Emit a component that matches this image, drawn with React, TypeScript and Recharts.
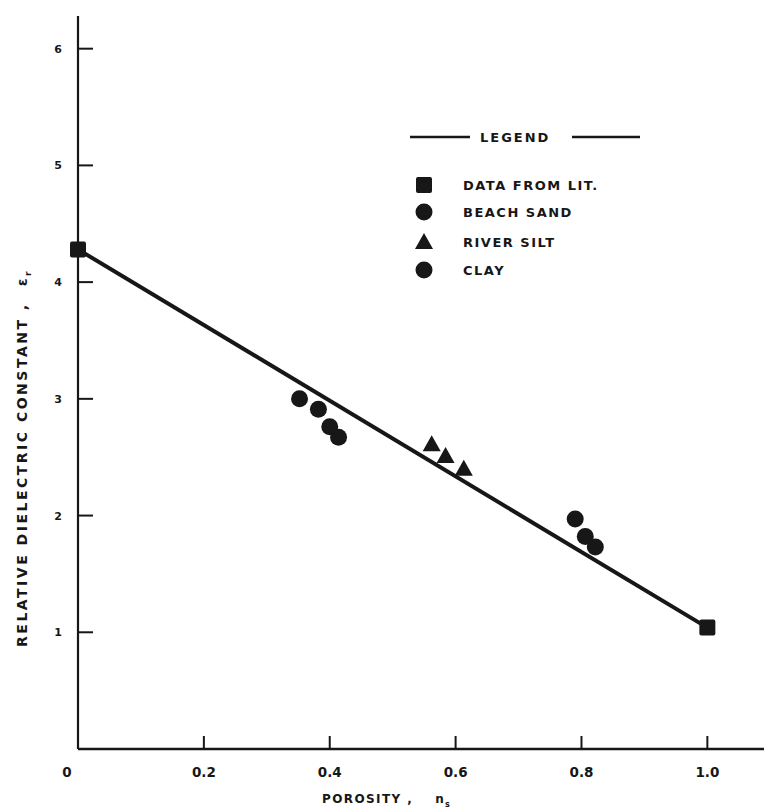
import React from "react";
import { ScatterChart, Scatter, XAxis, YAxis, Legend, Label } from "recharts";

// porosity (n_s) and relative dielectric constant readings per material
const litPorosity = [0, 1.0];
const litDielectric = [4.28, 1.04];

const sandPorosity = [0.352, 0.382, 0.4, 0.414];
const sandDielectric = [3.0, 2.91, 2.76, 2.67];

const siltPorosity = [0.562, 0.584, 0.613];
const siltDielectric = [2.61, 2.51, 2.4];

const clayPorosity = [0.79, 0.806, 0.822];
const clayDielectric = [1.97, 1.82, 1.73];

// straight-line fit through the literature end points
const fitPorosity = [0, 1.0];
const fitDielectric = [4.28, 1.04];

const porosityTicks = [0, 0.2, 0.4, 0.6, 0.8, 1.0];
const dielectricTicks = [1, 2, 3, 4, 5, 6];

const legendNames = ["DATA FROM LIT.", "BEACH SAND", "RIVER SILT", "CLAY"];
const legendShapes = ["square", "circle", "triangle", "circle"];

const INK = "#171717";
const FONT = "'DejaVu Sans', sans-serif";

const toPoints = (xs: number[], ys: number[]) =>
  xs.map((x, i) => ({ x, y: ys[i] }));

function Marker({ kind, cx, cy }: { kind: string; cx: number; cy: number }) {
  if (kind === "square") {
    return <rect x={cx - 8} y={cy - 8} width={16} height={16} rx={2} fill={INK} />;
  }
  if (kind === "triangle") {
    return (
      <polygon
        points={`${cx},${cy - 9} ${cx + 9},${cy + 7} ${cx - 9},${cy + 7}`}
        fill={INK}
      />
    );
  }
  return <circle cx={cx} cy={cy} r={8.5} fill={INK} />;
}

const shapeOf = (kind: string) => (props: any) =>
  <Marker kind={kind} cx={props.cx} cy={props.cy} />;

function PorosityTick({ x, y, payload }: any) {
  const v = payload.value as number;
  const label = v === 0 ? "0" : v.toFixed(1);
  return (
    <g>
      {v !== 0 && <line x1={x} x2={x} y1={y} y2={y - 13} stroke={INK} strokeWidth={2} />}
      <text
        x={v === 0 ? x - 11 : x}
        y={y + 28}
        textAnchor="middle"
        fontFamily={FONT}
        fontWeight={700}
        fontSize={13.5}
        fill={INK}
      >
        {label}
      </text>
    </g>
  );
}

function DielectricTick({ x, y, payload }: any) {
  return (
    <g>
      <line x1={x} x2={x + 15} y1={y} y2={y} stroke={INK} strokeWidth={2} />
      <text
        x={x - 20}
        y={y + 4}
        textAnchor="middle"
        fontFamily={FONT}
        fontWeight={700}
        fontSize={11}
        fill={INK}
      >
        {payload.value}
      </text>
    </g>
  );
}

function LegendBox() {
  const rowY = [65, 92, 122, 150];
  return (
    <svg width={320} height={170} style={{ overflow: "visible" }}>
      <line x1={10} x2={70} y1={17} y2={17} stroke={INK} strokeWidth={2.5} />
      <text
        x={80}
        y={22}
        fontFamily={FONT}
        fontWeight={700}
        fontSize={13}
        letterSpacing={2}
        fill={INK}
      >
        LEGEND
      </text>
      <line x1={172} x2={240} y1={17} y2={17} stroke={INK} strokeWidth={2.5} />
      {legendNames.map((name, i) => (
        <g key={name}>
          <Marker kind={legendShapes[i]} cx={24} cy={rowY[i]} />
          <text
            x={63}
            y={rowY[i] + 5}
            fontFamily={FONT}
            fontWeight={700}
            fontSize={13}
            letterSpacing={1.5}
            fill={INK}
          >
            {name}
          </text>
        </g>
      ))}
    </svg>
  );
}

export default function App() {
  return (
    <div style={{ position: "absolute", left: 0, top: 0, background: "#fff" }}>
      <ScatterChart
        width={767}
        height={812}
        margin={{ top: 16, right: 3, left: 0, bottom: 0 }}
      >
        <XAxis
          type="number"
          dataKey="x"
          domain={[0, 1.09]}
          ticks={porosityTicks}
          height={63}
          tickSize={0}
          tickMargin={0}
          tickLine={false}
          axisLine={{ stroke: INK, strokeWidth: 2.5 }}
          tick={<PorosityTick />}
        >
          <Label
            content={() => (
              <text
                x={322}
                y={803}
                fontFamily={FONT}
                fontWeight={700}
                fontSize={12}
                letterSpacing={1.4}
                fill={INK}
              >
                POROSITY ,
                <tspan dx={22}>n</tspan>
                <tspan dy={4} fontSize={8}>s</tspan>
              </text>
            )}
          />
        </XAxis>
        <YAxis
          type="number"
          dataKey="y"
          domain={[0, 6.28]}
          ticks={dielectricTicks}
          width={78}
          tickSize={0}
          tickMargin={0}
          tickLine={false}
          axisLine={{ stroke: INK, strokeWidth: 2.2 }}
          tick={<DielectricTick />}
        >
          <Label
            content={() => (
              <text
                x={27}
                y={458}
                transform="rotate(-90 27 458)"
                textAnchor="middle"
                fontFamily={FONT}
                fontWeight={700}
                fontSize={14}
                letterSpacing={2.5}
                fill={INK}
              >
                RELATIVE DIELECTRIC CONSTANT ,
                <tspan dx={16}>ε</tspan>
                <tspan dy={4} fontSize={9}>r</tspan>
              </text>
            )}
          />
        </YAxis>
        <Legend
          layout="horizontal"
          verticalAlign="middle"
          align="center"
          wrapperStyle={{ position: "absolute", left: 400, top: 120, width: 320, height: 170 }}
          content={() => <LegendBox />}
        />
        <Scatter
          name="fit"
          data={toPoints(fitPorosity, fitDielectric)}
          line={{ stroke: INK, strokeWidth: 4 }}
          shape={() => <g />}
          legendType="none"
          isAnimationActive={false}
        />
        <Scatter
          name="DATA FROM LIT."
          data={toPoints(litPorosity, litDielectric)}
          shape={shapeOf("square")}
          isAnimationActive={false}
        />
        <Scatter
          name="BEACH SAND"
          data={toPoints(sandPorosity, sandDielectric)}
          shape={shapeOf("circle")}
          isAnimationActive={false}
        />
        <Scatter
          name="RIVER SILT"
          data={toPoints(siltPorosity, siltDielectric)}
          shape={shapeOf("triangle")}
          isAnimationActive={false}
        />
        <Scatter
          name="CLAY"
          data={toPoints(clayPorosity, clayDielectric)}
          shape={shapeOf("circle")}
          isAnimationActive={false}
        />
      </ScatterChart>
    </div>
  );
}
